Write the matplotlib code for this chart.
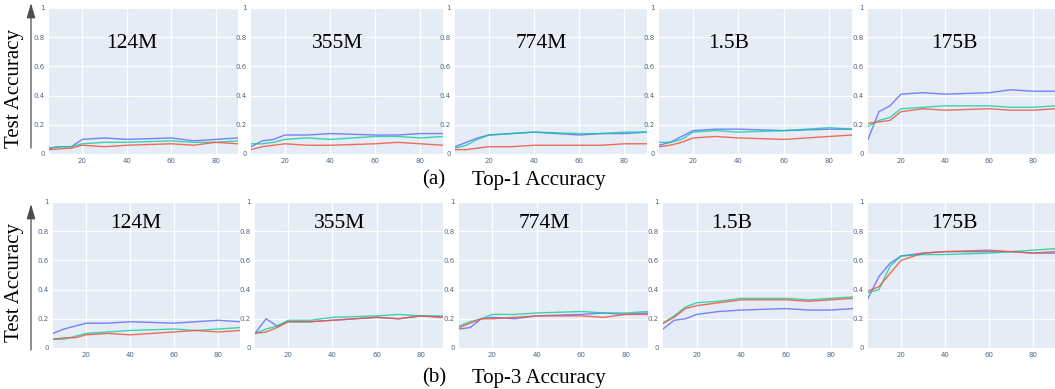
import matplotlib
matplotlib.use("Agg")
import matplotlib.pyplot as plt
from matplotlib.patches import FancyArrowPatch

W, H = 1055, 389
steps = [5, 10, 15, 20, 30, 40, 50, 60, 70, 80, 90]
models = ["124M", "355M", "774M", "1.5B", "175B"]

# Top-1 accuracy (blue, green, red series)
top1_blue = {
    "124M": [0.04, 0.05, 0.05, 0.10, 0.11, 0.10, 0.105, 0.11, 0.09, 0.10, 0.11],
    "355M": [0.05, 0.09, 0.10, 0.13, 0.13, 0.14, 0.135, 0.13, 0.13, 0.14, 0.14],
    "774M": [0.05, 0.08, 0.11, 0.13, 0.14, 0.15, 0.14, 0.13, 0.14, 0.14, 0.15],
    "1.5B": [0.06, 0.08, 0.12, 0.16, 0.17, 0.17, 0.165, 0.16, 0.165, 0.17, 0.17],
    "175B": [0.10, 0.29, 0.33, 0.41, 0.42, 0.41, 0.415, 0.42, 0.44, 0.43, 0.43],
}
top1_green = {
    "124M": [0.04, 0.05, 0.05, 0.07, 0.08, 0.08, 0.085, 0.09, 0.08, 0.08, 0.09],
    "355M": [0.07, 0.07, 0.08, 0.10, 0.11, 0.10, 0.11, 0.12, 0.12, 0.11, 0.12],
    "774M": [0.04, 0.06, 0.10, 0.13, 0.14, 0.15, 0.145, 0.14, 0.14, 0.15, 0.15],
    "1.5B": [0.08, 0.08, 0.10, 0.15, 0.16, 0.15, 0.155, 0.16, 0.17, 0.18, 0.17],
    "175B": [0.19, 0.23, 0.25, 0.31, 0.32, 0.33, 0.33, 0.33, 0.32, 0.32, 0.33],
}
top1_red = {
    "124M": [0.03, 0.035, 0.04, 0.06, 0.05, 0.06, 0.065, 0.07, 0.06, 0.08, 0.07],
    "355M": [0.03, 0.05, 0.06, 0.07, 0.06, 0.06, 0.065, 0.07, 0.08, 0.07, 0.06],
    "774M": [0.03, 0.03, 0.04, 0.05, 0.05, 0.06, 0.06, 0.06, 0.06, 0.07, 0.07],
    "1.5B": [0.05, 0.06, 0.08, 0.11, 0.12, 0.11, 0.105, 0.10, 0.11, 0.12, 0.13],
    "175B": [0.21, 0.22, 0.23, 0.29, 0.31, 0.30, 0.305, 0.31, 0.30, 0.30, 0.31],
}
# Top-3 accuracy
top3_blue = {
    "124M": [0.10, 0.13, 0.15, 0.17, 0.17, 0.18, 0.175, 0.17, 0.18, 0.19, 0.18],
    "355M": [0.10, 0.20, 0.15, 0.18, 0.18, 0.19, 0.20, 0.21, 0.20, 0.22, 0.21],
    "774M": [0.13, 0.14, 0.20, 0.21, 0.20, 0.22, 0.225, 0.23, 0.24, 0.23, 0.24],
    "1.5B": [0.13, 0.19, 0.20, 0.23, 0.25, 0.26, 0.265, 0.27, 0.26, 0.26, 0.27],
    "175B": [0.34, 0.49, 0.58, 0.63, 0.65, 0.66, 0.66, 0.66, 0.66, 0.65, 0.65],
}
top3_green = {
    "124M": [0.06, 0.06, 0.08, 0.10, 0.11, 0.12, 0.125, 0.13, 0.12, 0.13, 0.14],
    "355M": [0.10, 0.13, 0.15, 0.19, 0.19, 0.21, 0.215, 0.22, 0.23, 0.22, 0.22],
    "774M": [0.15, 0.18, 0.20, 0.23, 0.23, 0.24, 0.245, 0.25, 0.24, 0.24, 0.25],
    "1.5B": [0.17, 0.22, 0.28, 0.31, 0.32, 0.34, 0.34, 0.34, 0.33, 0.34, 0.35],
    "175B": [0.38, 0.40, 0.56, 0.63, 0.64, 0.64, 0.645, 0.65, 0.66, 0.67, 0.68],
}
top3_red = {
    "124M": [0.06, 0.07, 0.07, 0.09, 0.10, 0.09, 0.10, 0.11, 0.12, 0.11, 0.12],
    "355M": [0.10, 0.11, 0.14, 0.18, 0.18, 0.19, 0.20, 0.21, 0.20, 0.22, 0.21],
    "774M": [0.14, 0.17, 0.20, 0.20, 0.21, 0.22, 0.22, 0.22, 0.21, 0.23, 0.23],
    "1.5B": [0.17, 0.21, 0.27, 0.29, 0.31, 0.33, 0.33, 0.33, 0.32, 0.33, 0.34],
    "175B": [0.39, 0.42, 0.51, 0.60, 0.65, 0.66, 0.665, 0.67, 0.66, 0.65, 0.66],
}

xticks = [20, 40, 60, 80]
yticks = [0, 0.2, 0.4, 0.6, 0.8, 1]
ytick_labels = ["0", "0.2", "0.4", "0.6", "0.8", "1"]
caption_tags = ["(a)", "(b)"]
caption_texts = ["Top-1 Accuracy", "Top-3 Accuracy"]
ylabel = "Test Accuracy"

BLUE, RED, GREEN = "#636EFA", "#EF553B", "#00CC96"
BG = "#E5ECF6"
SERIF = ["Liberation Serif", "DejaVu Serif"]

fig = plt.figure(figsize=(W / 100, H / 100), dpi=100)

def add_ax(x0, x1, y0, y1):
    return fig.add_axes([x0 / W, 1 - y1 / H, (x1 - x0) / W, (y1 - y0) / H])

rows = [
    dict(y0=8, y1=154, xs=[(49, 238), (251, 443), (455, 647), (659, 852), (868, 1055)],
         data=(top1_blue, top1_green, top1_red), ty=0.76, arrow=(148, 3), cap=180),
    dict(y0=202, y1=348, xs=[(53, 240), (255, 443), (459, 648), (663, 853), (868, 1055)],
         data=(top3_blue, top3_green, top3_red), ty=0.85, arrow=(350, 204), cap=378),
]
title_x = [0.44, 0.45, 0.45, 0.36, 0.46]

for r, row in enumerate(rows):
    blue, green, red = row["data"]
    for i, m in enumerate(models):
        x0, x1 = row["xs"][i]
        ax = add_ax(x0, x1, row["y0"], row["y1"])
        ax.set_facecolor(BG)
        for s in ax.spines.values():
            s.set_visible(False)
        ax.set_xlim(5, 90)
        ax.set_ylim(0, 1)
        ax.set_xticks(xticks)
        ax.set_yticks(yticks)
        ax.set_yticklabels(ytick_labels)
        ax.grid(True, color="white", linewidth=0.9)
        ax.set_axisbelow(True)
        ax.tick_params(length=0, labelsize=5, colors="#506784", pad=3)
        ax.plot(steps, blue[m], color=BLUE, lw=1.0, alpha=0.85, zorder=3)
        ax.plot(steps, green[m], color=GREEN, lw=1.0, alpha=0.75, zorder=3)
        ax.plot(steps, red[m], color=RED, lw=1.0, alpha=0.85, zorder=3)
        ax.text(title_x[i], row["ty"], m, transform=ax.transAxes, ha="center", va="center",
                fontsize=15.5, family=SERIF, color="black")

    # y label and arrow
    yc = (row["y0"] + row["y1"]) / 2 + 7
    fig.text(15 / W, 1 - yc / H, ylabel, rotation=90, ha="center", va="center",
             fontsize=15, family=SERIF)
    ya, yb = row["arrow"]
    fig.add_artist(FancyArrowPatch(
        (31 / W, 1 - ya / H), (31 / W, 1 - yb / H), transform=fig.transFigure,
        arrowstyle="-|>,head_length=0.45,head_width=0.13", mutation_scale=20,
        color="#4d4d4d", lw=0.9, shrinkA=0, shrinkB=0))

    yc = row["cap"]
    fig.text(422 / W, 1 - yc / H, caption_tags[r], ha="left", va="center", fontsize=15, family=SERIF)
    fig.text(472 / W, 1 - yc / H, caption_texts[r], ha="left", va="center", fontsize=15, family=SERIF)

fig.savefig("out.png", dpi=100, facecolor="white")
